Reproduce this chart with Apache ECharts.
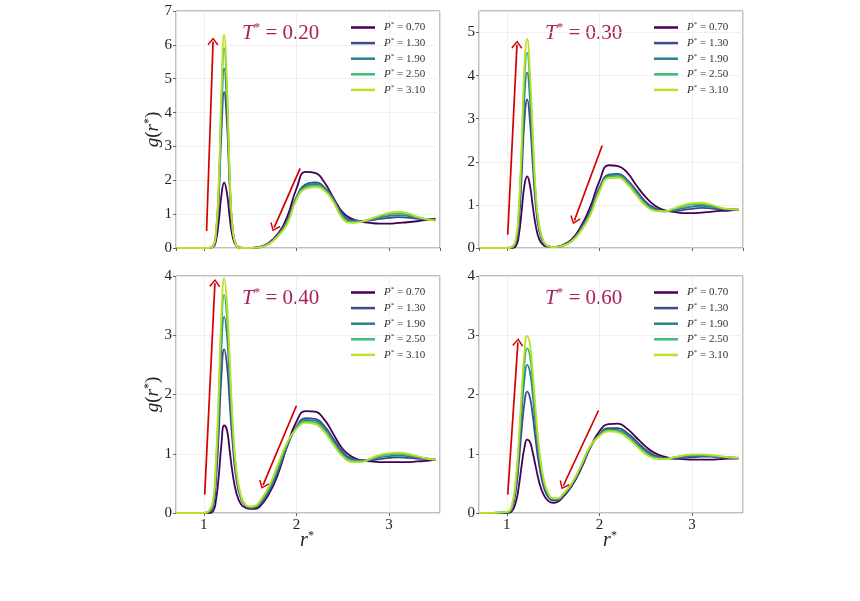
<!DOCTYPE html>
<html>
<head>
<meta charset="utf-8">
<script src="https://cdn.jsdelivr.net/npm/echarts@6/dist/echarts.min.js"></script>
<style>
  html, body { margin: 0; padding: 0; background: #fff; }
  #rdf { width: 860px; height: 601px; }
</style>
</head>
<body>
<div id="rdf"></div>
<script>
// r* sample points shared by every curve
const rValues = [0.71, 1.00, 1.05, 1.10, 1.13, 1.16, 1.19, 1.22, 1.25, 1.28, 1.31, 1.35,
  1.40, 1.45, 1.50, 1.55, 1.60, 1.70, 1.80, 1.90, 2.00, 2.10, 2.20, 2.30,
  2.40, 2.50, 2.60, 2.70, 2.80, 2.90, 3.00, 3.10, 3.20, 3.30, 3.40, 3.50]

const pressureNames = ['P* = 0.70', 'P* = 1.30', 'P* = 1.90', 'P* = 2.50', 'P* = 3.10']
const temperatures = ['0.20', '0.30', '0.40', '0.60']
const yMaxValues = [7, 5.5, 4, 4]

// T* = 0.20
const t020p070 = [0, 0, 0, 0.03, 0.20, 0.75, 1.55, 1.93, 1.62, 0.90, 0.35, 0.07, 0.01, 0, 0, 0.01, 0.03, 0.15, 0.42, 0.92, 1.75, 2.25, 2.22, 1.95, 1.48, 1.05, 0.86, 0.78, 0.74, 0.72, 0.72, 0.74, 0.76, 0.79, 0.83, 0.87]
const t020p130 = [0, 0, 0, 0.05, 0.35, 1.40, 3.40, 4.60, 3.70, 1.80, 0.55, 0.08, 0, 0, 0, 0.01, 0.03, 0.13, 0.38, 0.80, 1.50, 1.88, 1.94, 1.80, 1.45, 1.00, 0.82, 0.80, 0.82, 0.86, 0.89, 0.91, 0.90, 0.87, 0.85, 0.84]
const t020p190 = [0, 0, 0, 0.05, 0.40, 1.60, 3.90, 5.30, 4.20, 2.00, 0.60, 0.08, 0, 0, 0, 0.01, 0.02, 0.12, 0.37, 0.77, 1.47, 1.83, 1.89, 1.77, 1.42, 0.95, 0.79, 0.79, 0.84, 0.90, 0.95, 0.97, 0.95, 0.89, 0.85, 0.83]
const t020p250 = [0, 0, 0, 0.05, 0.40, 1.70, 4.30, 5.90, 4.60, 2.10, 0.60, 0.08, 0, 0, 0, 0.01, 0.02, 0.12, 0.36, 0.74, 1.45, 1.79, 1.84, 1.73, 1.38, 0.90, 0.76, 0.78, 0.85, 0.93, 1.00, 1.02, 0.99, 0.91, 0.85, 0.82]
const t020p310 = [0, 0, 0, 0.05, 0.45, 1.80, 4.60, 6.30, 4.90, 2.20, 0.60, 0.08, 0, 0, 0, 0.01, 0.02, 0.11, 0.35, 0.70, 1.42, 1.75, 1.80, 1.70, 1.35, 0.86, 0.74, 0.77, 0.86, 0.96, 1.04, 1.07, 1.03, 0.93, 0.85, 0.80]

// T* = 0.30
const t030p070 = [0, 0, 0, 0.05, 0.30, 0.85, 1.45, 1.66, 1.45, 0.98, 0.55, 0.20, 0.06, 0.03, 0.02, 0.03, 0.06, 0.20, 0.50, 0.95, 1.55, 1.92, 1.90, 1.75, 1.45, 1.18, 0.98, 0.88, 0.84, 0.81, 0.81, 0.82, 0.84, 0.86, 0.87, 0.89]
const t030p130 = [0, 0, 0.01, 0.12, 0.60, 1.65, 2.95, 3.45, 2.95, 1.95, 1.05, 0.40, 0.10, 0.04, 0.02, 0.03, 0.05, 0.18, 0.45, 0.85, 1.40, 1.70, 1.72, 1.58, 1.33, 1.07, 0.92, 0.86, 0.86, 0.88, 0.91, 0.93, 0.92, 0.90, 0.89, 0.89]
const t030p190 = [0, 0, 0.01, 0.17, 0.75, 2.00, 3.50, 4.07, 3.45, 2.25, 1.20, 0.45, 0.12, 0.04, 0.02, 0.03, 0.05, 0.17, 0.43, 0.82, 1.37, 1.68, 1.70, 1.55, 1.29, 1.03, 0.89, 0.85, 0.88, 0.92, 0.96, 0.98, 0.96, 0.92, 0.90, 0.89]
const t030p250 = [0, 0, 0.02, 0.20, 0.85, 2.20, 3.90, 4.53, 3.80, 2.50, 1.30, 0.50, 0.13, 0.04, 0.02, 0.03, 0.05, 0.16, 0.41, 0.78, 1.33, 1.65, 1.67, 1.52, 1.25, 1.00, 0.87, 0.85, 0.90, 0.96, 1.01, 1.02, 0.99, 0.93, 0.90, 0.89]
const t030p310 = [0, 0, 0.02, 0.25, 0.95, 2.40, 4.20, 4.85, 4.10, 2.70, 1.40, 0.52, 0.14, 0.04, 0.02, 0.03, 0.05, 0.15, 0.39, 0.75, 1.30, 1.62, 1.63, 1.48, 1.22, 0.98, 0.86, 0.85, 0.92, 0.99, 1.04, 1.05, 1.01, 0.94, 0.90, 0.89]

// T* = 0.40
const t040p070 = [0, 0, 0, 0.03, 0.20, 0.60, 1.15, 1.48, 1.40, 1.05, 0.68, 0.35, 0.15, 0.09, 0.07, 0.07, 0.10, 0.31, 0.65, 1.13, 1.54, 1.72, 1.71, 1.58, 1.33, 1.08, 0.95, 0.89, 0.87, 0.86, 0.86, 0.86, 0.86, 0.87, 0.88, 0.90]
const t040p130 = [0, 0, 0.01, 0.10, 0.50, 1.30, 2.30, 2.76, 2.50, 1.85, 1.20, 0.58, 0.24, 0.12, 0.09, 0.09, 0.13, 0.35, 0.70, 1.12, 1.45, 1.60, 1.59, 1.47, 1.25, 1.03, 0.92, 0.89, 0.89, 0.91, 0.93, 0.94, 0.93, 0.92, 0.91, 0.90]
const t040p190 = [0, 0, 0.02, 0.15, 0.65, 1.60, 2.80, 3.31, 3.00, 2.20, 1.40, 0.66, 0.27, 0.13, 0.09, 0.10, 0.15, 0.38, 0.74, 1.15, 1.44, 1.57, 1.56, 1.43, 1.21, 1.00, 0.90, 0.88, 0.90, 0.94, 0.96, 0.97, 0.96, 0.94, 0.92, 0.90]
const t040p250 = [0, 0, 0.02, 0.18, 0.75, 1.80, 3.10, 3.68, 3.30, 2.40, 1.50, 0.70, 0.28, 0.13, 0.10, 0.11, 0.17, 0.41, 0.78, 1.17, 1.43, 1.54, 1.53, 1.40, 1.18, 0.97, 0.88, 0.87, 0.91, 0.96, 0.99, 1.00, 0.98, 0.95, 0.92, 0.90]
const t040p310 = [0, 0, 0.03, 0.22, 0.85, 2.00, 3.35, 3.96, 3.55, 2.60, 1.60, 0.75, 0.30, 0.14, 0.11, 0.12, 0.19, 0.44, 0.82, 1.19, 1.42, 1.52, 1.50, 1.37, 1.15, 0.95, 0.86, 0.86, 0.92, 0.98, 1.01, 1.02, 1.00, 0.96, 0.92, 0.90]

// T* = 0.60
const t060p070 = [0, 0, 0.02, 0.20, 0.45, 0.80, 1.10, 1.24, 1.20, 1.02, 0.80, 0.52, 0.30, 0.20, 0.17, 0.19, 0.26, 0.45, 0.74, 1.10, 1.38, 1.50, 1.51, 1.42, 1.27, 1.12, 1.01, 0.95, 0.92, 0.91, 0.90, 0.90, 0.90, 0.91, 0.92, 0.92]
const t060p130 = [0, 0.01, 0.05, 0.40, 0.85, 1.40, 1.85, 2.05, 1.95, 1.65, 1.25, 0.80, 0.43, 0.26, 0.21, 0.22, 0.28, 0.47, 0.77, 1.10, 1.33, 1.43, 1.43, 1.35, 1.21, 1.07, 0.97, 0.93, 0.92, 0.93, 0.94, 0.95, 0.95, 0.94, 0.93, 0.93]
const t060p190 = [0, 0.01, 0.07, 0.50, 1.05, 1.70, 2.25, 2.50, 2.38, 2.00, 1.50, 0.95, 0.50, 0.29, 0.23, 0.23, 0.29, 0.48, 0.78, 1.11, 1.32, 1.41, 1.40, 1.32, 1.18, 1.04, 0.95, 0.92, 0.93, 0.95, 0.96, 0.97, 0.96, 0.95, 0.94, 0.93]
const t060p250 = [0, 0.01, 0.08, 0.56, 1.15, 1.90, 2.50, 2.78, 2.65, 2.20, 1.65, 1.02, 0.53, 0.31, 0.24, 0.24, 0.30, 0.49, 0.79, 1.12, 1.31, 1.39, 1.38, 1.29, 1.15, 1.01, 0.93, 0.91, 0.94, 0.96, 0.98, 0.98, 0.97, 0.95, 0.94, 0.93]
const t060p310 = [0, 0.02, 0.10, 0.62, 1.25, 2.05, 2.70, 2.99, 2.85, 2.38, 1.78, 1.08, 0.56, 0.33, 0.25, 0.25, 0.31, 0.50, 0.80, 1.13, 1.30, 1.38, 1.36, 1.27, 1.13, 0.99, 0.92, 0.91, 0.94, 0.97, 0.99, 0.99, 0.98, 0.96, 0.94, 0.93]

// red arrows [start, end] in data units, one pair per panel
const upArrows = [[[1.03, 0.50], [1.10, 6.10]], [[1.01, 0.31], [1.11, 4.72]], [[1.01, 0.31], [1.12, 3.88]], [[1.01, 0.31], [1.12, 2.88]]]
const downArrows = [[[2.04, 2.35], [1.76, 0.60]], [[2.03, 2.38], [1.73, 0.64]], [[2.00, 1.81], [1.64, 0.47]], [[1.99, 1.73], [1.61, 0.46]]]

const curves = [
  [t020p070, t020p130, t020p190, t020p250, t020p310],
  [t030p070, t030p130, t030p190, t030p250, t030p310],
  [t040p070, t040p130, t040p190, t040p250, t040p310],
  [t060p070, t060p130, t060p190, t060p250, t060p310]
]

const lineColors = ['#440154', '#3e4a89', '#26828e', '#3dbc74', '#bddf26']
const serif = 'Liberation Serif'
const titleColor = '#a8215e'
const arrowRed = '#d40000'

// panel layout (pixels)
const boxes = [
  { left: 176, top: 11, bottom: false, yname: true },
  { left: 479, top: 11, bottom: false, yname: false },
  { left: 176, top: 276, bottom: true, yname: true },
  { left: 479, top: 276, bottom: true, yname: false }
]
const PW = 264
const PH = 237

const chevron = 'path://M0,0 L6,7.5 L4.8,8.7 L0,2.4 L-4.8,8.7 L-6,7.5 Z'

function arrowLine (a) {
  return [{ coord: a[0], symbol: 'none' }, { coord: a[1], symbol: chevron }]
}

function genOption () {
  const series = []
  boxes.forEach(function (b, i) {
    curves[i].forEach(function (vals, k) {
      const s = {
        type: 'line',
        name: pressureNames[k],
        xAxisIndex: i,
        yAxisIndex: i,
        data: rValues.map((r, j) => [r, vals[j]]),
        showSymbol: false,
        symbol: 'none',
        smooth: 0.5,
        z: 2 + k,
        lineStyle: { color: lineColors[k], width: 1.8 },
        itemStyle: { color: lineColors[k] },
        emphasis: { disabled: true }
      }
      if (k === 4) {
        s.markLine = {
          silent: true,
          symbolSize: [11, 8],
          lineStyle: { color: arrowRed, width: 1.7, type: 'solid' },
          label: { show: false },
          emphasis: { disabled: true },
          data: [arrowLine(upArrows[i]), arrowLine(downArrows[i])]
        }
      }
      series.push(s)
    })
  })

  const graphic = []
  boxes.forEach(function (b, i) {
    graphic.push({
      type: 'text',
      x: b.left + 66,
      y: b.top + 22,
      style: {
        text: '{t|T}{s|*}{n| = ' + temperatures[i] + '}',
        verticalAlign: 'middle',
        rich: {
          t: { fontFamily: serif, fontStyle: 'italic', fontSize: 21, fill: titleColor, lineHeight: 24 },
          s: { fontFamily: serif, fontSize: 13, fill: titleColor, verticalAlign: 'top', lineHeight: 24 },
          n: { fontFamily: serif, fontSize: 21, fill: titleColor, lineHeight: 24 }
        }
      }
    })
    if (b.yname) {
      graphic.push({
        type: 'text',
        x: 153,
        y: b.top + PH / 2,
        rotation: Math.PI / 2,
        style: {
          text: '{i|g}{n|(}{i|r}{s|*}{n|)}',
          align: 'center',
          verticalAlign: 'middle',
          rich: {
            i: { fontFamily: serif, fontStyle: 'italic', fontSize: 19, fill: '#222', lineHeight: 20 },
            n: { fontFamily: serif, fontSize: 19, fill: '#222', lineHeight: 20 },
            s: { fontFamily: serif, fontSize: 12, fill: '#222', verticalAlign: 'top', lineHeight: 20 }
          }
        }
      })
    }
    if (b.bottom) {
      graphic.push({
        type: 'text',
        x: b.left + 131,
        y: 541,
        style: {
          text: '{i|r}{s|*}',
          align: 'center',
          verticalAlign: 'middle',
          rich: {
            i: { fontFamily: serif, fontStyle: 'italic', fontSize: 20, fill: '#222', lineHeight: 22 },
            s: { fontFamily: serif, fontSize: 12, fill: '#222', verticalAlign: 'top', lineHeight: 22 }
          }
        }
      })
    }
  })

  const option = {
    animation: false,
    backgroundColor: '#fff',
    grid: boxes.map(b => ({
      left: b.left,
      top: b.top,
      width: PW,
      height: PH,
      show: true,
      borderColor: '#808080',
      borderWidth: 1
    })),
    xAxis: boxes.map((b, i) => ({
      type: 'value',
      gridIndex: i,
      min: 0.7,
      max: 3.55,
      splitNumber: 3,
      axisLine: { show: false },
      axisTick: { show: true, length: 3, lineStyle: { color: '#666' } },
      axisLabel: {
        show: b.bottom,
        showMinLabel: false,
        showMaxLabel: false,
        fontFamily: serif,
        fontSize: 15,
        color: '#222',
        margin: 5
      },
      splitLine: { show: true, lineStyle: { color: '#ececec', width: 0.8 } }
    })),
    yAxis: boxes.map((b, i) => ({
      type: 'value',
      gridIndex: i,
      min: 0,
      max: yMaxValues[i],
      interval: 1,
      axisLine: { show: false },
      axisTick: { show: true, length: 3, lineStyle: { color: '#666' } },
      axisLabel: {
        showMaxLabel: yMaxValues[i] % 1 === 0,
        fontFamily: serif,
        fontSize: 15,
        color: '#222',
        margin: 4
      },
      splitLine: { show: true, lineStyle: { color: '#ececec', width: 0.8 } }
    })),
    legend: boxes.map(b => ({
      data: pressureNames,
      orient: 'vertical',
      left: b.left + 175,
      top: b.top + 10,
      padding: 0,
      itemGap: 3.6,
      itemWidth: 24,
      itemHeight: 2.5,
      icon: 'rect',
      selectedMode: false,
      formatter: function (name) {
        return '{i|P}{s|*}{n| = ' + name.split('= ')[1] + '}'
      },
      textStyle: {
        padding: [0, 0, 0, 4],
        rich: {
          i: { fontFamily: serif, fontStyle: 'italic', fontSize: 11, color: '#333', lineHeight: 13 },
          s: { fontFamily: serif, fontSize: 7, color: '#333', verticalAlign: 'top', lineHeight: 13 },
          n: { fontFamily: serif, fontSize: 11, color: '#333', lineHeight: 13 }
        }
      }
    })),
    graphic: graphic,
    series: series
  }
  return option
}

const chart = echarts.init(document.getElementById('rdf'))
chart.setOption(genOption())
</script>
</body>
</html>
